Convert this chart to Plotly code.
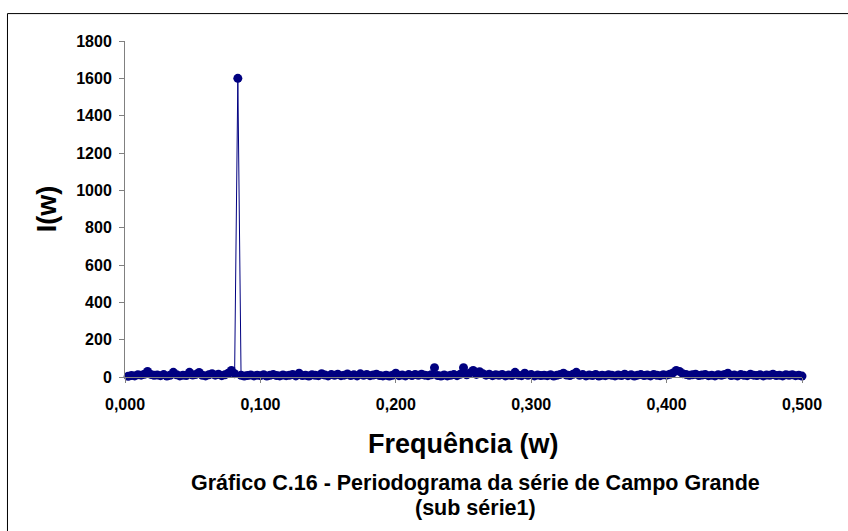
import plotly.graph_objects as go

# Periodogram data: Fourier frequencies j/420 (j = 1..210) and I(w) values
N_SERIES = 420
periodogram = [
    4, 8, 6, 12, 10, 15, 30, 14, 9, 11,
    7, 13, 5, 9, 25, 12, 6, 10, 8, 25,
    11, 14, 24, 9, 6, 12, 18, 10, 15, 7,
    12, 20, 35, 18, 1600, 9, 5, 8, 11, 6,
    10, 7, 12, 5, 9, 13, 8, 6, 11, 7,
    9, 14, 6, 20, 8, 10, 5, 12, 9, 7,
    18, 11, 6, 13, 9, 15, 7, 10, 16, 8,
    12, 6, 17, 9, 14, 7, 11, 15, 8, 6,
    10, 5, 9, 20, 7, 11, 6, 13, 8, 14,
    9, 15, 10, 7, 12, 50, 8, 5, 11, 6,
    9, 13, 7, 15, 50, 12, 22, 35, 14, 28,
    18, 10, 15, 7, 12, 9, 14, 6, 11, 8,
    25, 10, 7, 20, 9, 13, 6, 11, 8, 10,
    7, 12, 5, 9, 14, 20, 11, 8, 15, 25,
    9, 13, 6, 11, 8, 14, 5, 10, 7, 12,
    9, 6, 11, 8, 15, 7, 12, 5, 10, 13,
    8, 11, 6, 14, 9, 7, 12, 10, 15, 22,
    35, 30, 18, 14, 9, 12, 15, 8, 11, 13,
    7, 10, 6, 12, 9, 14, 20, 8, 11, 6,
    13, 9, 7, 15, 10, 8, 12, 6, 11, 9,
    15, 8, 10, 6, 12, 9, 12, 7, 10, 5,
]
frequencies = [j / N_SERIES for j in range(1, len(periodogram) + 1)]

x_tick_values = [0.0, 0.1, 0.2, 0.3, 0.4, 0.5]
x_tick_labels = ["0,000", "0,100", "0,200", "0,300", "0,400", "0,500"]
y_tick_values = [0, 200, 400, 600, 800, 1000, 1200, 1400, 1600, 1800]
y_tick_labels = [str(v) for v in y_tick_values]

title_x = "Frequência (w)"
title_y = "I(w)"
caption_1 = "Gráfico C.16 - Periodograma da série de Campo Grande"
caption_2 = "(sub série1)"

NAVY = "#000080"
FONT = "Liberation Sans, Arial, sans-serif"

fig = go.Figure()
fig.add_trace(go.Scatter(
    x=frequencies, y=periodogram, mode="lines+markers",
    line=dict(color=NAVY, width=1),
    marker=dict(color=NAVY, size=9),
    cliponaxis=False, showlegend=False,
))

fig.update_layout(
    width=848, height=531,
    margin=dict(l=125, r=46, t=41, b=154),
    paper_bgcolor="white", plot_bgcolor="white",
    font=dict(family=FONT, color="black"),
    xaxis=dict(
        range=[0, 0.5], tickvals=x_tick_values, ticktext=x_tick_labels,
        showgrid=False, zeroline=False, showline=True, linecolor="#808080", linewidth=1,
        ticks="outside", ticklen=5, tickcolor="#808080", ticklabelstandoff=8,
        tickfont=dict(size=16, family=FONT, color="black", weight="bold"),
    ),
    yaxis=dict(
        range=[0, 1800], tickvals=y_tick_values, ticktext=y_tick_labels,
        showgrid=False, zeroline=False, showline=True, linecolor="#808080", linewidth=1,
        ticks="outside", ticklen=5, tickcolor="#808080", ticklabelstandoff=4,
        tickfont=dict(size=16, family=FONT, color="black", weight="bold"),
    ),
    shapes=[dict(
        type="rect", xref="paper", yref="paper",
        x0=-0.1736, x1=1.1, y0=-0.5, y1=1.0816,
        line=dict(color="black", width=1), fillcolor="rgba(0,0,0,0)", layer="below",
    )],
    annotations=[
        dict(text=f"<b>{title_x}</b>", xref="paper", yref="paper", x=0.5, y=-0.199,
             xanchor="center", yanchor="middle", showarrow=False,
             font=dict(size=27, family=FONT, color="black")),
        dict(text=f"<b>{title_y}</b>", xref="paper", yref="paper", x=-0.114, y=0.502,
             xanchor="center", yanchor="middle", showarrow=False, textangle=-90,
             font=dict(size=27, family=FONT, color="black")),
        dict(text=f"<b>{caption_1}</b>", xref="paper", yref="paper", x=0.518, y=-0.315,
             xanchor="center", yanchor="middle", showarrow=False,
             font=dict(size=21.5, family=FONT, color="black")),
        dict(text=f"<b>{caption_2}</b>", xref="paper", yref="paper", x=0.518, y=-0.391,
             xanchor="center", yanchor="middle", showarrow=False,
             font=dict(size=21.5, family=FONT, color="black")),
    ],
)

fig.write_html(
    "out.html",
    config={"displayModeBar": False},
    post_script="document.body.style.margin='0';document.body.style.overflow='hidden';",
)
